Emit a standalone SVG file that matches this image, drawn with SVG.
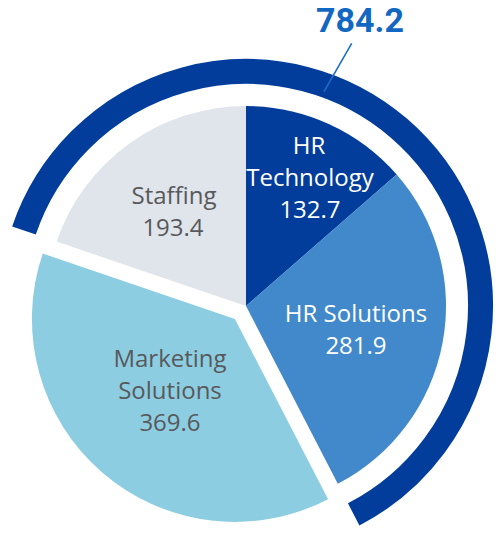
<svg xmlns="http://www.w3.org/2000/svg" width="496" height="533" viewBox="0 0 496 533">
<style>
  .lbl { font-family: "Open Sans", "Liberation Sans", sans-serif; font-size: 24px; text-anchor: middle; }
  .dark { fill: #58595b; }
  .light { fill: #ffffff; }
  .total { font-family: Roboto, "Liberation Sans", sans-serif; font-size: 34px; font-weight: bold; fill: #1167c1; text-anchor: middle; }
  .band { fill: none; stroke: #023d9c; stroke-width: 25; stroke-linecap: butt; }
  .leader { fill: none; stroke: #1a6ec8; stroke-width: 1.6; }
</style>
<rect width="496" height="533" fill="#ffffff"/>

<g id="total-arc">
  <path class="band" d="M 23.99 230.51 A 234.5 234.5 0 1 1 353.65 514.33"/>
</g>

<g id="staffing">
  <path d="M 246 306 L 56.65 241.62 A 200 200 0 0 1 246 106 Z" fill="#e0e4eb"/>
  <text class="lbl dark" x="174" y="204">Staffing</text>
  <text class="lbl dark" x="173" y="236">193.4</text>
</g>

<g id="hr-technology">
  <path d="M 246 306 L 246 106 A 200 200 0 0 1 396.63 174.43 Z" fill="#023d9c"/>
  <text class="lbl light" x="309" y="154">HR</text>
  <text class="lbl light" x="310" y="186">Technology</text>
  <text class="lbl light" x="310" y="218">132.7</text>
</g>

<g id="hr-solutions">
  <path d="M 246 306 L 396.63 174.43 A 200 200 0 0 1 337.81 483.68 Z" fill="#4189cb"/>
  <text class="lbl light" x="356" y="322">HR Solutions</text>
  <text class="lbl light" x="356" y="354">281.9</text>
</g>

<g id="marketing-solutions">
  <path d="M 234.91 318.88 L 328.10 499.23 A 203 203 0 0 1 42.72 253.53 Z" fill="#8dcde2"/>
  <text class="lbl dark" x="170" y="367">Marketing</text>
  <text class="lbl dark" x="170" y="399">Solutions</text>
  <text class="lbl dark" x="170" y="431">369.6</text>
</g>

<g id="total-label">
  <text class="total" x="360" y="32">784.2</text>
</g>

<g id="connectors">
  <line class="leader" x1="351.7" y1="43.3" x2="324" y2="91.7"/>
</g>
</svg>
